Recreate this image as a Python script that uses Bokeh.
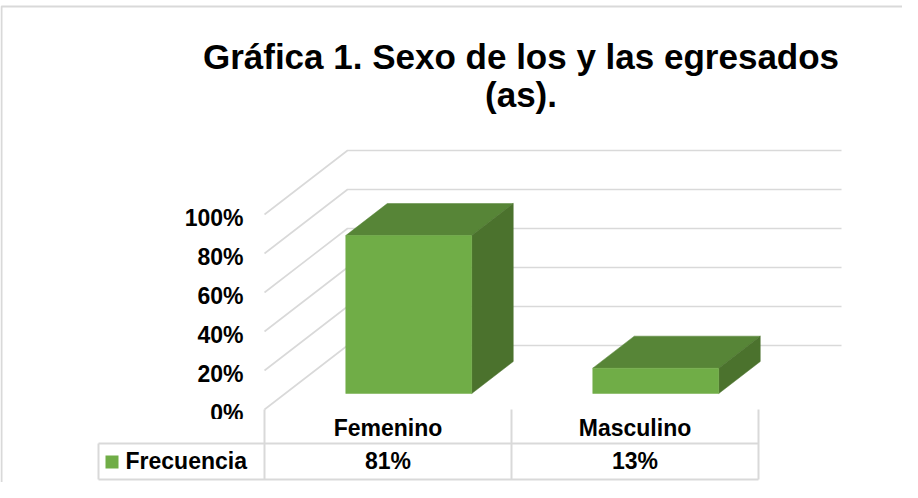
from bokeh.plotting import figure
from bokeh.models import Range1d
from bokeh.core.properties import value
from bokeh.embed import file_html
from bokeh.resources import INLINE

# ---------------- data ----------------
title_lines = ["Gráfica 1. Sexo de los y las egresados", "(as)."]
categories = ["Femenino", "Masculino"]
frecuencia = [81, 13]
series_name = "Frecuencia"
y_ticks = [0, 20, 40, 60, 80, 100]
tick_labels = ["0%", "20%", "40%", "60%", "80%", "100%"]

# ---------------- layout / scales ----------------
W, H = 902, 482
PX_PER_CAT = 247.0
PX_PER_PCT = 1.95
X0 = -(395.5 - 8) / PX_PER_CAT
Y0 = -(490 - 417) / PX_PER_PCT


def sx(px):
    return X0 + (px - 8) / PX_PER_CAT


def sy(py):
    return Y0 + (490 - py) / PX_PER_PCT


DX = 83 / PX_PER_CAT
DY = 64 / PX_PER_PCT
BW = 63 / PX_PER_CAT
D0, D1 = 0.25, 0.75
FONT = value("Liberation Sans")
GRID = "#d9d9d9"
FRONT, TOP, SIDE = "#70ad47", "#578537", "#4b722d"

p = figure(width=W, height=H, x_range=Range1d(X0, X0 + W / PX_PER_CAT),
           y_range=Range1d(Y0, Y0 + H / PX_PER_PCT),
           output_backend="svg", toolbar_location=None,
           x_axis_type=None, y_axis_type=None, min_border=0)
p.grid.visible = False
p.outline_line_color = None
p.background_fill_color = "white"
p.border_fill_color = "white"

# outer chart border
p.line([sx(9), sx(9), sx(915)], [sy(500), sy(14), sy(14)], line_color=GRID, line_width=2)

# title
title_y = [64, 102]
for t, ty in zip(title_lines, title_y):
    p.text([sx(528.5)], [sy(ty)], text=[t], text_font=FONT, text_font_style="bold",
           text_font_size="35px", text_align="center", text_baseline="middle", text_color="black")

# 3D gridlines: side wall diagonals + back wall horizontals
n = len(categories)
left, right = -0.5, n - 0.5
gx = [[left, left + DX, right + DX] for v in y_ticks]
gy = [[v, v + DY, v + DY] for v in y_ticks]
p.multi_line(gx, gy, line_color=GRID, line_width=1.6)

# tick labels
lab_off = 3.5 / PX_PER_PCT
p.text([sx(251)] * len(y_ticks), [v - lab_off for v in y_ticks], text=tick_labels, text_font=FONT,
       text_font_style="bold", text_font_size="23px", text_align="right",
       text_baseline="middle", text_color="black")
# clip lower part of "0%" like the reference
p.quad(left=[sx(200)], right=[sx(262)], top=[sy(426.5)], bottom=[sy(449)],
       fill_color="white", line_color=None)

# bars (3D boxes)
for i, v in enumerate(frecuencia):
    L = i - BW + D0 * DX
    R = i + BW + D0 * DX
    B = D0 * DY
    T = v + D0 * DY
    ddx = (D1 - D0) * DX
    ddy = (D1 - D0) * DY
    p.patch([L, R, R + ddx, L + ddx], [T, T, T + ddy, T + ddy], fill_color=TOP, line_color=TOP, line_width=0.5)
    p.patch([R, R + ddx, R + ddx, R], [B, B + ddy, T + ddy, T], fill_color=SIDE, line_color=SIDE, line_width=0.5)
    p.quad(left=[L], right=[R], bottom=[B], top=[T], fill_color=FRONT, line_color=FRONT, line_width=0.5)

# data table
row1 = sy(451)
row2 = sy(487)
for k in range(n + 1):
    xk = left + k
    p.line([xk, xk], [0, row2], line_color=GRID, line_width=2)
p.line([sx(106), right], [row1, row1], line_color=GRID, line_width=2)
p.line([sx(106), right], [row2, row2], line_color=GRID, line_width=2)
p.line([sx(106), sx(106)], [row1, row2], line_color=GRID, line_width=2)

p.text(list(range(n)), [sy(435)] * n, text=categories, text_font=FONT, text_font_style="bold",
       text_font_size="23px", text_align="center", text_baseline="middle", text_color="black")
p.text(list(range(n)), [sy(468)] * n, text=[f"{v}%" for v in frecuencia], text_font=FONT,
       text_font_style="bold", text_font_size="23px", text_align="center",
       text_baseline="middle", text_color="black")

# legend key
p.quad(left=[sx(113)], right=[sx(126)], top=[sy(463)], bottom=[sy(476)], fill_color=FRONT, line_color=None)
p.text([sx(133)], [sy(468)], text=[series_name], text_font=FONT, text_font_style="bold",
       text_font_size="23px", text_align="left", text_baseline="middle", text_color="black")

open("out.html", "w").write(file_html(p, INLINE))
